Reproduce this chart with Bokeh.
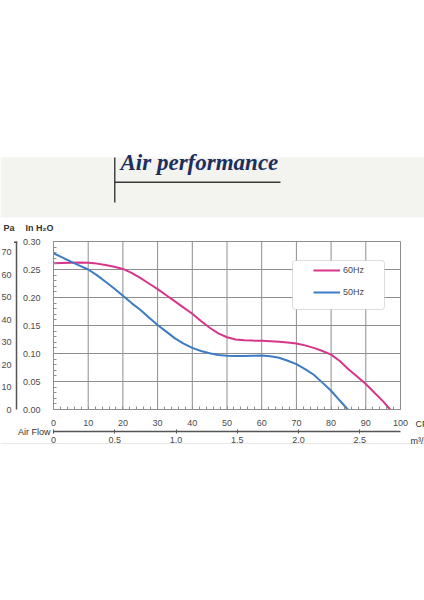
from bokeh.plotting import figure
from bokeh.models import (Range1d, LinearAxis, BoxAnnotation, Label, Legend,
                          LegendItem, FixedTicker, NumeralTickFormatter)
from bokeh.embed import file_html
from bokeh.resources import INLINE

# ---------- data (CFM vs in H2O) ----------
flow_60 = [0, 2.5, 5, 7.5, 10, 12.5, 15, 17.5, 20, 22.5, 25, 27.5, 30, 32.5, 35, 37.5, 40,
           42.5, 45, 47.5, 50, 52.5, 55, 57.5, 60, 62.5, 65, 67.5, 70, 72.5, 75, 77.5, 80,
           82.5, 85, 87.5, 90, 92.5, 95, 97]
press_60 = [0.261, 0.2615, 0.262, 0.2623, 0.262, 0.2605, 0.258, 0.255, 0.251, 0.244, 0.235,
            0.225, 0.215, 0.204, 0.193, 0.182, 0.171, 0.158, 0.146, 0.136, 0.129, 0.125,
            0.1235, 0.123, 0.1227, 0.122, 0.121, 0.1195, 0.118, 0.1145, 0.110, 0.1045, 0.098,
            0.0865, 0.072, 0.059, 0.0455, 0.030, 0.0145, 0.0]

flow_50 = [0, 2.5, 5, 7.5, 10, 12.5, 15, 17.5, 20, 22.5, 25, 27.5, 30, 32.5, 35, 37.5, 40,
           42.5, 45, 47.5, 50, 52.5, 55, 57.5, 60, 62.5, 65, 67.5, 70, 72.5, 75, 77.5, 80,
           82.5, 84.8]
press_50 = [0.279, 0.2715, 0.264, 0.257, 0.250, 0.240, 0.228, 0.216, 0.203, 0.190, 0.178,
            0.1645, 0.151, 0.139, 0.127, 0.1175, 0.110, 0.1045, 0.1005, 0.0975, 0.096, 0.0955,
            0.0955, 0.096, 0.0965, 0.095, 0.0925, 0.087, 0.081, 0.072, 0.062, 0.048, 0.0335,
            0.016, 0.0]

cfm_ticks = [0, 10, 20, 30, 40, 50, 60, 70, 80, 90, 100]
inh2o_ticks = [0.0, 0.05, 0.10, 0.15, 0.20, 0.25, 0.30]
pa_ticks = [0, 10, 20, 30, 40, 50, 60, 70]
m3_ticks = [0, 0.5, 1.0, 1.5, 2.0, 2.5]

CFM_MAX, INH2O_MAX = 100, 0.30
PA_PER_INH2O = 249.09
M3MIN_PER_CFM = 0.0283168

# ---------- layout, in page pixels ----------
W, H = 424, 600
PX0, PX100 = 53, 400      # x of 0 and 100 CFM
PY0, PYTOP = 409, 241     # y of 0.00 and 0.30 in H2O
kx = (PX100 - PX0) / CFM_MAX
ky = (PY0 - PYTOP) / INH2O_MAX

def dx(px):
    return (px - PX0) / kx

def dy(py):
    return (PY0 - py) / ky

GRID = "#8e8e8e"
TXT = "#4a4a4a"
FONT = "Liberation Sans"

x_range = Range1d(dx(0), dx(W))
y_range = Range1d(dy(H), dy(0))

p = figure(width=W, height=H, output_backend="svg", toolbar_location=None,
           x_range=x_range, y_range=y_range, x_axis_type=None, y_axis_type=None,
           min_border=0, outline_line_color=None,
           background_fill_color="white", border_fill_color="white")
p.grid.visible = False

p.extra_y_ranges = {"pa": Range1d(y_range.start * PA_PER_INH2O, y_range.end * PA_PER_INH2O)}
p.extra_x_ranges = {"m3": Range1d(x_range.start * M3MIN_PER_CFM, x_range.end * M3MIN_PER_CFM)}

# header band + title
p.add_layout(BoxAnnotation(top=dy(157), bottom=dy(217), fill_color="#f3f3ef",
                           fill_alpha=1, line_color=None, level="underlay"))
p.add_layout(BoxAnnotation(left=dx(113.5), right=dx(115), top=dy(157), bottom=dy(202),
                           fill_color="#444444", fill_alpha=1, line_color=None))
p.add_layout(BoxAnnotation(left=dx(114), right=dx(280), top=dy(181), bottom=dy(182.5),
                           fill_color="#3a3a3a", fill_alpha=1, line_color=None))
p.add_layout(Label(x=dx(120), y=dy(174), text="Air performance", text_font="Liberation Serif",
                   text_font_style="bold italic", text_font_size="23px", text_color="#1c2e5e"))
p.add_layout(BoxAnnotation(top=dy(442.5), bottom=dy(443.5), fill_color="#e8e8e8",
                           fill_alpha=1, line_color=None))

# grid lines, from the tick lists
p.segment(x0=cfm_ticks, y0=[0] * len(cfm_ticks), x1=cfm_ticks, y1=[INH2O_MAX] * len(cfm_ticks),
          line_color=GRID, line_width=1)
p.segment(x0=[0] * len(inh2o_ticks), y0=inh2o_ticks, x1=[CFM_MAX] * len(inh2o_ticks),
          y1=inh2o_ticks, line_color=GRID, line_width=1)

# in H2O axis
ya = LinearAxis(fixed_location=0, bounds=(0, INH2O_MAX),
                ticker=FixedTicker(ticks=inh2o_ticks, minor_ticks=[i * 0.01 for i in range(31)]),
                formatter=NumeralTickFormatter(format="0.00"))
ya.major_tick_in = 0
ya.major_tick_out = 0
ya.minor_tick_in = 3
ya.minor_tick_out = 0
ya.minor_tick_line_color = GRID
ya.axis_line_color = GRID
ya.major_label_standoff = 13
ya.major_label_text_font = FONT
ya.major_label_text_font_size = "9px"
ya.major_label_text_color = TXT
p.add_layout(ya, "left")

# Pa axis
pa_axis = LinearAxis(y_range_name="pa", fixed_location=dx(16),
                     bounds=(0, INH2O_MAX * PA_PER_INH2O), ticker=FixedTicker(ticks=pa_ticks))
pa_axis.major_tick_in = 0
pa_axis.major_tick_out = 0
pa_axis.minor_tick_in = 0
pa_axis.minor_tick_out = 0
pa_axis.axis_line_color = "#555555"
pa_axis.axis_line_width = 1.5
pa_axis.major_label_standoff = 5
pa_axis.major_label_text_font = FONT
pa_axis.major_label_text_font_size = "9px"
pa_axis.major_label_text_color = TXT
p.add_layout(pa_axis, "left")
# little hook at the top of the Pa scale
p.add_layout(BoxAnnotation(left=dx(13.5), right=dx(16.7), top=dy(241), bottom=dy(242.5),
                           fill_color="#555555", fill_alpha=1, line_color=None))

# CFM axis
xa = LinearAxis(fixed_location=0, bounds=(0, CFM_MAX),
                ticker=FixedTicker(ticks=cfm_ticks, minor_ticks=[i * 2 for i in range(51)]))
xa.major_tick_in = 0
xa.major_tick_out = 0
xa.minor_tick_in = 3
xa.minor_tick_out = 0
xa.minor_tick_line_color = GRID
xa.axis_line_color = GRID
xa.major_label_standoff = 10
xa.major_label_text_font = FONT
xa.major_label_text_font_size = "9px"
xa.major_label_text_color = TXT
p.add_layout(xa, "below")

# m3/min axis
m3_axis = LinearAxis(x_range_name="m3", fixed_location=dy(431),
                     bounds=(0, CFM_MAX * M3MIN_PER_CFM), ticker=FixedTicker(ticks=m3_ticks),
                     formatter=NumeralTickFormatter(format="0.0"))
m3_axis.major_label_overrides = {0: "0"}
m3_axis.axis_line_color = "#555555"
m3_axis.axis_line_width = 1.3
m3_axis.major_tick_in = 2
m3_axis.major_tick_out = 2
m3_axis.major_tick_line_color = "#555555"
m3_axis.minor_tick_in = 0
m3_axis.minor_tick_out = 0
m3_axis.major_label_standoff = 3
m3_axis.major_label_text_font = FONT
m3_axis.major_label_text_font_size = "9px"
m3_axis.major_label_text_color = TXT
p.add_layout(m3_axis, "below")

# curves
r60 = p.line(flow_60, press_60, line_color="#d6358a", line_width=2)
r50 = p.line(flow_50, press_50, line_color="#3d7cc2", line_width=2)

# unit labels
for px, py, t, align, style in [(3, 227, "Pa", "left", "bold"),
                                (25, 227, "In H\u2082O", "left", "bold"),
                                (50, 431, "Air Flow", "right", "normal"),
                                (415, 423, "CFM", "left", "normal"),
                                (410, 440, "m\u00b3/min", "left", "normal")]:
    p.add_layout(Label(x=dx(px), y=dy(py), text=t, text_align=align, text_baseline="middle",
                       text_font=FONT, text_font_size="9px", text_font_style=style,
                       text_color="#333333"))

# legend box + legend
p.add_layout(BoxAnnotation(left=dx(292), right=dx(384), top=dy(260), bottom=dy(309),
                           fill_color="white", fill_alpha=1, line_color=GRID,
                           line_width=1, border_radius=3))
legend = Legend(items=[LegendItem(label="60Hz", renderers=[r60]),
                       LegendItem(label="50Hz", renderers=[r50])],
                location=(313, H - 300), background_fill_alpha=0,
                border_line_color=None, padding=0, margin=0, glyph_width=27, glyph_height=16,
                label_height=16, spacing=6, label_standoff=3, label_text_font=FONT,
                label_text_font_size="9px", label_text_color=TXT)
p.add_layout(legend)

open("out.html", "w").write(file_html(p, INLINE))
